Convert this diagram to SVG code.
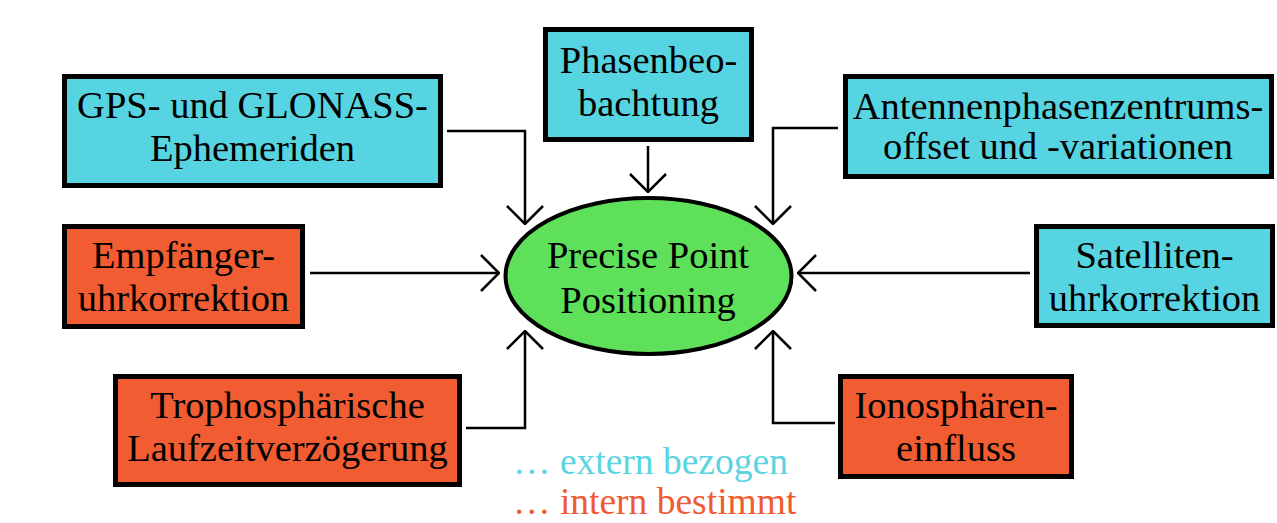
<svg xmlns="http://www.w3.org/2000/svg" width="1277" height="523" viewBox="0 0 1277 523">
<style>
.box{stroke:#000;stroke-width:5}
.ext{fill:#56d4e1}
.int{fill:#f15c32}
.t{font-family:"Liberation Serif","Times New Roman",serif;font-size:38.5px;fill:#000;text-anchor:middle}
.c{fill:none;stroke:#000;stroke-width:2.5}
.leg{font-family:"Liberation Serif","Times New Roman",serif;font-size:37.5px}
</style>
<defs>
<marker id="ah" viewBox="0 0 20 40" refX="19" refY="20" markerWidth="20" markerHeight="40" markerUnits="userSpaceOnUse" orient="auto">
<path d="M1,2 L19,20 L1,38" fill="none" stroke="#000" stroke-width="2.5"/>
</marker>
</defs>
<rect width="1277" height="523" fill="#fff"/>
<g id="connectors">
<path class="c" d="M447,131 H525 V224" marker-end="url(#ah)"/>
<path class="c" d="M648,146 V192" marker-end="url(#ah)"/>
<path class="c" d="M838,128 H773 V224" marker-end="url(#ah)"/>
<path class="c" d="M310,273 H499" marker-end="url(#ah)"/>
<path class="c" d="M1030,273 H798" marker-end="url(#ah)"/>
<path class="c" d="M466,428 H525 V331" marker-end="url(#ah)"/>
<path class="c" d="M835,423 H773 V331" marker-end="url(#ah)"/>
</g>
<g id="ppp">
<ellipse cx="648.5" cy="276" rx="143" ry="78" fill="#5ee05b" stroke="#000" stroke-width="4"/>
<text class="t" x="648" y="268">Precise Point</text>
<text class="t" x="648" y="313">Positioning</text>
</g>
<g id="gps">
<rect class="box ext" x="64.5" y="76.5" width="376" height="109"/>
<text class="t" x="252.5" y="118">GPS- und GLONASS-</text>
<text class="t" x="252.5" y="161">Ephemeriden</text>
</g>
<g id="phase">
<rect class="box ext" x="545.5" y="29.5" width="206" height="110"/>
<text class="t" x="648.5" y="73">Phasenbeo-</text>
<text class="t" x="648.5" y="116">bachtung</text>
</g>
<g id="antenna">
<rect class="box ext" x="845.5" y="76.5" width="426" height="100"/>
<text class="t" x="1058" y="119">Antennenphasenzentrums-</text>
<text class="t" x="1058" y="159">offset und -variationen</text>
</g>
<g id="receiver">
<rect class="box int" x="64.5" y="226.5" width="238" height="100"/>
<text class="t" x="183.5" y="268">Empfänger-</text>
<text class="t" x="183.5" y="311">uhrkorrektion</text>
</g>
<g id="satellite">
<rect class="box ext" x="1036.5" y="226.5" width="236" height="99"/>
<text class="t" x="1154.5" y="268">Satelliten-</text>
<text class="t" x="1154.5" y="311">uhrkorrektion</text>
</g>
<g id="tropo">
<rect class="box int" x="115.5" y="376.5" width="344" height="108"/>
<text class="t" x="287.5" y="418">Trophosphärische</text>
<text class="t" x="287.5" y="461">Laufzeitverzögerung</text>
</g>
<g id="iono">
<rect class="box int" x="840.5" y="376.5" width="231" height="100"/>
<text class="t" x="956" y="418">Ionosphären-</text>
<text class="t" x="956" y="461">einfluss</text>
</g>
<g id="legend">
<text class="leg" x="513" y="474" fill="#5bd3e0">… extern bezogen</text>
<text class="leg" x="513" y="514" fill="#f05a30">… intern bestimmt</text>
</g>
</svg>
